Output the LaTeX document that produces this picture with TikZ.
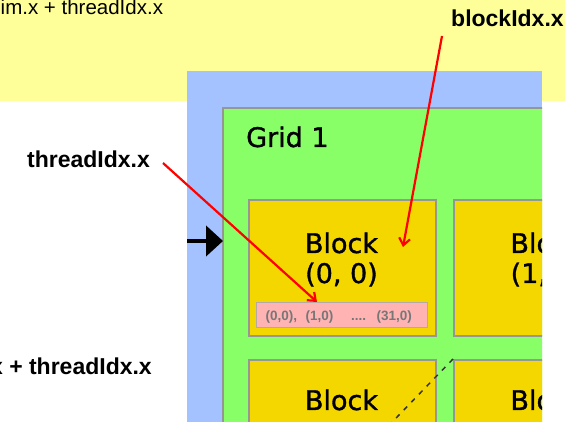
\documentclass[tikz,border=0pt]{standalone}
\usepackage{fontspec}
\setmainfont{Liberation Sans}
\newfontfamily\dejavu[FakeBold=1.2]{DejaVu Sans}
\usetikzlibrary{arrows.meta}

\definecolor{memyellow}{HTML}{FFFF99}
\definecolor{hostblue}{HTML}{A3C2FF}
\definecolor{gridgreen}{HTML}{88FF66}
\definecolor{blockgold}{HTML}{F5D700}
\definecolor{framegray}{HTML}{969696}
\definecolor{threadpink}{HTML}{FFB3B3}
\definecolor{threadframe}{HTML}{B4A8A8}
\definecolor{threadtext}{HTML}{777777}

\begin{document}
\begin{tikzpicture}[x=1pt,y=-1pt,
  blockbox/.style={draw=framegray,line width=2pt,fill=blockgold,
    minimum width=187pt,minimum height=136pt,anchor=north west,inner sep=0pt},
  blocklabel/.style={font=\dejavu\fontsize{27}{30}\selectfont,anchor=base,inner sep=0pt},
  gridlabel/.style={font=\dejavu\fontsize{27}{30}\selectfont,anchor=base west,inner sep=0pt},
  idxlabel/.style={font=\bfseries\fontsize{23}{27}\selectfont,inner sep=0pt},
  formula/.style={font=\fontsize{20.5}{24}\selectfont,inner sep=0pt},
  threadlabel/.style={font=\bfseries\fontsize{13.5}{15}\selectfont,text=threadtext,
    anchor=base west,inner sep=0pt},
  pointer/.style={red,line width=2.2pt,-{Straight Barb[length=7pt,width=11pt]}},
  launch/.style={black,line width=4.5pt,-{Triangle[length=17pt,width=30pt]}}]

\useasboundingbox (0,0) rectangle (582,422);

% host code band and device area
\fill[memyellow] (0,0) rectangle (565,101);
\fill[hostblue] (187,71) rectangle (542,422);

\begin{scope}
  \clip (187,71) rectangle (542,422);
  % grid
  \draw[framegray,line width=2pt,fill=gridgreen] (223,108) rectangle (640,470);
  \node[gridlabel] (gridname) at (246,147) {Grid 1};

  % blocks
  \node[blockbox] (b00) at (248,199) {};
  \node[blockbox] (b10) at (453,199) {};
  \node[blockbox] (b01) at (248,359) {};
  \node[blockbox] (b11) at (453,359) {};

  \node[blocklabel] (b00a) at (341.5,253) {Block};
  \node[blocklabel] (b00b) at (341.5,283) {(0, 0)};
  \node[blocklabel] (b10a) at (547,253) {Block};
  \node[blocklabel] (b10b) at (547,283) {(1, 0)};
  \node[blocklabel] (b01a) at (341.5,410) {Block};
  \node[blocklabel] (b01b) at (341.5,446) {(0, 1)};
  \node[blocklabel] (b11a) at (547,410) {Block};
  \node[blocklabel] (b11b) at (547,446) {(1, 1)};

  % threads of block (0,0)
  \node[draw=threadframe,line width=1pt,fill=threadpink,anchor=north west,
        minimum width=171pt,minimum height=25pt,inner sep=0pt] (threads) at (256,302) {};
  \node[threadlabel] (t0) at (265.5,320.5) {(0,0),};
  \node[threadlabel] (t1) at (305.5,320.5) {(1,0)};
  \node[threadlabel] (t2) at (351,320.5) {....};
  \node[threadlabel] (t3) at (376.5,320.5) {(31,0)};

  % dashed guide from block (1,1)
  \coordinate (dashend) at (372,443);
  \draw[black!80,line width=1.5pt,dash pattern=on 5pt off 6pt] (b11.north west) -- (dashend);

  % kernel launch arrow
  \coordinate (launchfrom) at (180,241);
  \coordinate (launchto) at (223,241);
  \draw[launch] (launchfrom) -- (launchto);
\end{scope}

% index expressions
\node[formula,anchor=base west] (expr) at (0.5,15) {im.x + threadIdx.x};
\node[idxlabel,anchor=base east] (expr2) at (152,375) {x + threadIdx.x};
\node[idxlabel,anchor=base west] (tid) at (27,168) {threadIdx.x};
\node[idxlabel,anchor=base west] (bid) at (451,27) {blockIdx.x};

% pointers
\coordinate (tidfrom) at (163,163);
\coordinate (tidto) at (317,302);
\coordinate (bidfrom) at (442,36);
\coordinate (bidto) at (403,247);
\draw[pointer] (tidfrom) -- (tidto);
\draw[pointer] (bidfrom) -- (bidto);
\end{tikzpicture}
\end{document}
